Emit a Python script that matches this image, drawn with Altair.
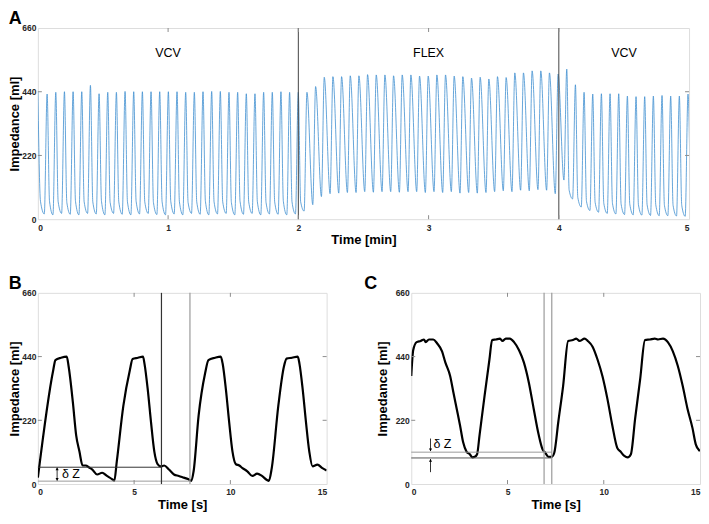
import altair as alt
import pandas as pd

FONT = "Liberation Sans"

# ---------------- Panel A: 5-minute impedance trace (per-breath readings) ----------------
PERIOD_S = 3.99          # breath period
FIRST_PEAK_S = 4.26      # time of first end-inspiratory peak
TROUGH_LEAD_S = 1.3      # trough precedes each peak by this much
SHOULDER_LAG_S = 1.1     # expiratory shoulder follows each peak by this much
START_T_S = [0.0, 1.2]
START_V = [440, 62]

PEAKS_A = [
    432, 438, 440, 440, 440, 462, 433, 438, 438, 441, 440, 440, 440, 440, 440,
    440, 438, 438, 440, 441, 441, 438, 438, 433, 433, 438, 438, 440, 438, 438,
    438, 458, 490, 492, 492, 495, 495, 499, 498, 498, 495, 498, 498, 494, 494,
    498, 498, 494, 492, 487, 490, 484, 492, 489, 505, 505, 512, 512, 505, 501,
    518, 464, 438, 432, 433, 433, 433, 425, 423, 423, 425, 427, 425, 425, 432,
]
TROUGHS_A = [
    18, 15, 20, 17, 15, 20, 18, 15, 20, 17, 15, 18, 20, 16, 15,
    18, 15, 20, 17, 15, 18, 20, 15, 17, 20, 15, 18, 17, 15, 18,
    28, 50, 78, 88, 90, 92, 92, 95, 93, 95, 95, 93, 95, 95, 92,
    95, 92, 95, 90, 92, 90, 92, 95, 98, 95, 100, 98, 102, 100, 88,
    135, 70, 42, 30, 24, 20, 18, 16, 15, 14, 13, 12, 12, 11, 10,
]
SHOULDERS_A = [
    62, 60, 58, 62, 60, 60, 62, 58, 60, 60, 62, 60, 58, 60, 62,
    60, 58, 60, 62, 60, 60, 58, 62, 60, 60, 58, 60, 62, 60, 60,
    None, None, None, None, None, None, None, None, None, None, None, None, None, None, None,
    None, None, None, None, None, None, None, None, None, None, None, None, None, None, None,
    100, 75, 62, 58, 55, 55, 52, 52, 50, 50, 50, 48, 48, 48, 48,
]
SECTION_T_MIN = [1.0, 3.0, 4.5]
SECTION_LABEL = ["VCV", "FLEX", "VCV"]
SECTION_V = [572, 572, 572]
BOUNDARY_T_MIN = [2, 4]

# ---------------- Panel B: 15 s of VCV ----------------
B_T = [0.0, 0.8, 0.91, 1.2, 1.5, 1.6, 1.82, 1.99, 2.16, 2.32, 2.49, 2.66, 2.83, 3.08,
       3.34, 3.59, 3.85, 3.97, 4.1, 4.44, 4.78, 4.92, 5.2, 5.46, 5.54, 5.71, 5.88, 6.05,
       6.22, 6.39, 6.56, 6.81, 7.07, 7.32, 7.58, 7.8, 7.97, 8.09, 8.35, 8.69, 8.86, 9.2,
       9.5, 9.6, 9.77, 9.94, 10.11, 10.28, 10.46, 10.63, 10.88, 11.14, 11.39, 11.64, 11.9,
       12.0, 12.15, 12.49, 12.78, 12.92, 13.2, 13.5, 13.59, 13.76, 13.93, 14.1, 14.27,
       14.52, 14.78, 15.0]
B_V = [22, 394, 428, 436, 440, 405, 281, 168, 112, 64, 64, 57, 50, 33,
       39, 28, 17, 11, 78, 270, 394, 432, 436, 440, 415, 325, 212, 112,
       69, 61, 64, 50, 33, 28, 22, 17, 11, 44, 236, 383, 428, 436,
       440, 415, 325, 212, 112, 69, 64, 55, 44, 28, 36, 28, 14,
       11, 55, 270, 405, 433, 436, 440, 415, 325, 212, 112, 61,
       67, 55, 47]
B_HLINE_T0 = [0.0, 0.0]
B_HLINE_T1 = [6.42, 7.9]
B_HLINE_V = [58, 10]
B_HLINE_COL = ["#333333", "#9a9a9a"]
B_VLINE_T = [6.42, 7.9]
B_VLINE_COL = ["#333333", "#9a9a9a"]

# ---------------- Panel C: 15 s of FLEX ----------------
C_T = [0.0, 0.1, 0.28, 0.49, 0.66, 0.75, 0.92, 1.14, 1.34, 1.6, 1.77, 2.02, 2.19, 2.36,
       2.53, 2.7, 2.87, 3.04, 3.18, 3.3, 3.42, 3.55, 3.81, 4.06, 4.2, 4.4, 4.61, 4.74,
       4.91, 5.12, 5.34, 5.6, 5.85, 6.11, 6.36, 6.62, 6.82, 6.96, 7.13, 7.3, 7.43, 7.64,
       7.89, 8.15, 8.4, 8.57, 8.74, 9.0, 9.17, 9.42, 9.68, 9.93, 10.19, 10.44, 10.7,
       10.87, 11.07, 11.24, 11.41, 11.63, 11.89, 12.14, 12.4, 12.65, 12.82, 13.08,
       13.33, 13.59, 13.84, 14.1, 14.35, 14.61, 14.78, 14.95, 15.0]
C_V = [373, 462, 490, 494, 499, 490, 499, 499, 486, 458, 420, 373, 316, 260,
       204, 143, 112, 103, 92, 94, 103, 170, 305, 429, 497, 499, 502, 494,
       502, 502, 490, 462, 420, 350, 260, 170, 120, 108, 94, 94, 108, 215,
       339, 494, 497, 502, 494, 502, 494, 474, 429, 373, 294, 204, 125,
       112, 97, 92, 103, 226, 361, 497, 499, 502, 499, 502,
       490, 458, 409, 339, 260, 193, 137, 117, 114]
C_HLINE_T0 = [0.0, 0.0]
C_HLINE_T1 = [7.3, 7.3]
C_HLINE_V = [110, 90]
C_HLINE_COL = ["#9a9a9a", "#555555"]
C_VLINE_T = [6.9, 7.3]
C_VLINE_COL = ["#9a9a9a", "#9a9a9a"]

Y_TICKS = [0, 220, 440, 660]
Y_INNER_TICKS = [220, 440]
A_TICKS = [0, 1, 2, 3, 4, 5]
A_INNER_TICKS = [1, 2, 3, 4]
S_TICKS = [0, 5, 10, 15]
S_INNER_TICKS = [5, 10]

W_A, H_A = 654, 192
W_B, H_B = 290, 192
W_C = 290
FRAME = "#8c8c8c"


def build_trace_a():
    t, v = list(START_T_S), list(START_V)
    for k in range(len(PEAKS_A)):
        tp = FIRST_PEAK_S + k * PERIOD_S
        t.append(tp - TROUGH_LEAD_S); v.append(TROUGHS_A[k])
        t.append(tp); v.append(PEAKS_A[k])
        if SHOULDERS_A[k] is not None:
            t.append(tp + SHOULDER_LAG_S); v.append(SHOULDERS_A[k])
    return pd.DataFrame({"t": [x / 60.0 for x in t], "v": v})


def xenc(domain, ticks, title, field="t"):
    return alt.X(f"{field}:Q", scale=alt.Scale(domain=domain, nice=False, zero=False),
                 axis=alt.Axis(values=ticks, format="d", ticks=False, domain=False, grid=False,
                               labelFont=FONT, labelFontWeight="bold", labelFontSize=8.5,
                               labelColor="#262626", labelPadding=4, title=title,
                               titleFont=FONT, titleFontSize=13, titleFontWeight="bold",
                               titleColor="black", titlePadding=2))


def yenc(tpad, field="v"):
    return alt.Y(f"{field}:Q", scale=alt.Scale(domain=[0, 660], nice=False),
                 axis=alt.Axis(values=Y_TICKS, format="d", ticks=False, domain=False, grid=False,
                               labelFont=FONT, labelFontWeight="bold", labelFontSize=8.5,
                               labelColor="#262626", labelPadding=2, title="Impedance [ml]",
                               titleFont=FONT, titleFontSize=13, titleFontWeight="bold",
                               titleColor="black", titlePadding=tpad))


def inner_ticks(X, Y, xt, yt, w, h):
    dx = pd.DataFrame({"t": xt})
    dy = pd.DataFrame({"v": yt})
    top = alt.Chart(dx).mark_rule(color=FRAME, strokeWidth=1).encode(x=X, y=alt.value(0), y2=alt.value(4))
    bot = alt.Chart(dx).mark_rule(color=FRAME, strokeWidth=1).encode(x=X, y=alt.value(h), y2=alt.value(h - 4))
    lef = alt.Chart(dy).mark_rule(color=FRAME, strokeWidth=1).encode(y=Y, x=alt.value(0), x2=alt.value(4))
    rig = alt.Chart(dy).mark_rule(color=FRAME, strokeWidth=1).encode(y=Y, x=alt.value(w), x2=alt.value(w - 4))
    return [top, bot, lef, rig]


def letter(txt, dx=0):
    return alt.TitleParams(txt, anchor="start", frame="bounds", font=FONT, fontSize=18,
                           fontWeight="bold", color="black", offset=-4, dx=dx)


# ---------- Panel A ----------
XA = xenc([0, 5], A_TICKS, "Time [min]")
YA = yenc(0)
trace_a = alt.Chart(build_trace_a()).mark_line(
    color="#3f8fd0", strokeWidth=0.8, clip=True, interpolate="monotone").encode(x=XA, y=YA, order="t:Q")
bounds_a = alt.Chart(pd.DataFrame({"t": BOUNDARY_T_MIN})).mark_rule(color="#444444", strokeWidth=1).encode(x=XA)
labels_a = alt.Chart(pd.DataFrame({"t": SECTION_T_MIN, "v": SECTION_V, "lab": SECTION_LABEL})).mark_text(
    font=FONT, fontSize=12.5, color="black", baseline="middle", align="center").encode(x=XA, y=YA, text="lab:N")
panel_a = alt.layer(trace_a, bounds_a, labels_a, *inner_ticks(XA, YA, A_INNER_TICKS, Y_INNER_TICKS, W_A, H_A)
                    ).properties(width=W_A, height=H_A, title=letter("A"))


# ---------- Panels B / C ----------
def small_panel(T, V, h0, h1, hv, hcol, vt, vcol, arrows, txt_pos, w, tpad, title):
    X = xenc([0, 15], S_TICKS, "Time [s]")
    Y = yenc(tpad)
    trace = alt.Chart(pd.DataFrame({"t": T, "v": V})).mark_line(
        color="black", strokeWidth=2.2, clip=True, interpolate="monotone").encode(x=X, y=Y, order="t:Q")
    hl = alt.Chart(pd.DataFrame({"t": h0, "t2": h1, "v": hv, "c": hcol})).mark_rule(strokeWidth=1).encode(
        x=X, x2="t2:Q", y=Y, color=alt.Color("c:N", scale=None))
    vl = alt.Chart(pd.DataFrame({"t": vt, "c": vcol})).mark_rule(strokeWidth=1.2).encode(
        x=X, color=alt.Color("c:N", scale=None))
    layers = [trace, hl, vl]
    shafts = pd.DataFrame({"t": [a[0] for a in arrows], "v": [a[1] for a in arrows],
                           "v2": [a[2] for a in arrows]})
    layers.append(alt.Chart(shafts).mark_rule(color="black", strokeWidth=0.8).encode(x=X, y=Y, y2="v2:Q"))
    for a in arrows:
        for hv_, shp in a[3]:
            layers.append(alt.Chart(pd.DataFrame({"t": [a[0]], "v": [hv_]})).mark_point(
                shape=shp, filled=True, size=10, color="black", opacity=1).encode(x=X, y=Y))
    layers.append(alt.Chart(pd.DataFrame({"t": [txt_pos[0]], "v": [txt_pos[1]], "s": ["δ Z"]})).mark_text(
        font=FONT, fontSize=12.5, color="black", align="left", baseline="middle").encode(x=X, y=Y, text="s:N"))
    layers += inner_ticks(X, Y, S_INNER_TICKS, Y_INNER_TICKS, w, H_B)
    return alt.layer(*layers).properties(width=w, height=H_B, title=title)


# arrows: (t, shaft start, shaft end, [(head value, shape)])
B_ARROWS = [(1.0, 12, 56, [(52, "triangle-up"), (16, "triangle-down")])]
C_ARROWS = [(1.0, 157, 114, [(118, "triangle-down")]),
            (1.0, 41, 86, [(82, "triangle-up")])]

panel_b = small_panel(B_T, B_V, B_HLINE_T0, B_HLINE_T1, B_HLINE_V, B_HLINE_COL, B_VLINE_T, B_VLINE_COL,
                      B_ARROWS, (1.25, 33), W_B, 0, letter("B"))
panel_c = small_panel(C_T, C_V, C_HLINE_T0, C_HLINE_T1, C_HLINE_V, C_HLINE_COL, C_VLINE_T, C_VLINE_COL,
                      C_ARROWS, (1.15, 137), W_C, 6, letter("C", dx=-12))

chart = alt.vconcat(
    panel_a,
    alt.hconcat(panel_b, panel_c, spacing=36),
    spacing=27,
).properties(padding=0).configure_view(stroke=FRAME, strokeWidth=1).configure(background="white")

chart.save("out.html", embed_options={"renderer": "svg", "actions": False})
